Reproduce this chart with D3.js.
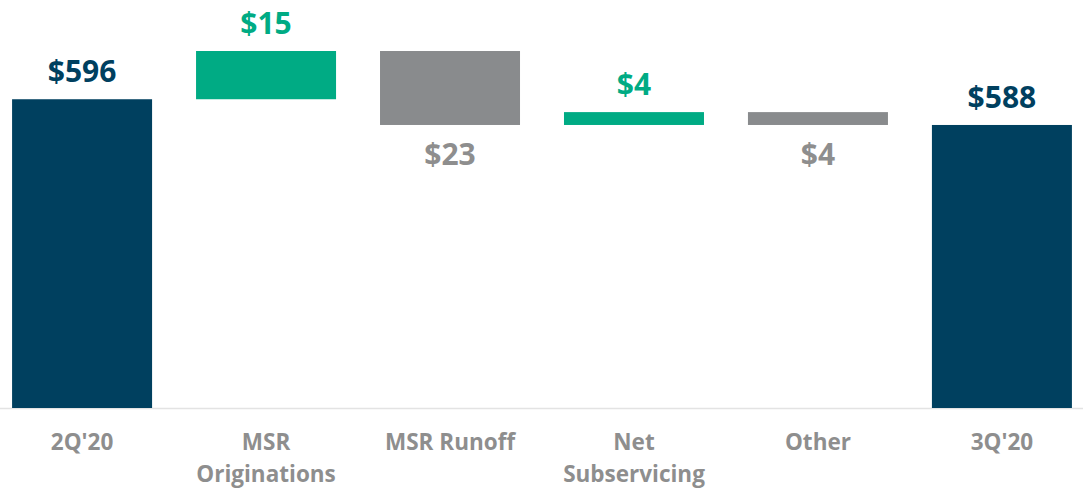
<!DOCTYPE html>
<html>
<head>
<meta charset="utf-8">
<script src="https://cdn.jsdelivr.net/npm/d3@7"></script>
<style>
  body { margin: 0; background: #fff; }
  svg { display: block; font-family: "Open Sans", "Noto Sans", sans-serif; }
</style>
</head>
<body>
<svg width="1083" height="490"></svg>
<script>
var categories = ["2Q'20", "MSR\nOriginations", "MSR Runoff", "Net\nSubservicing", "Other", "3Q'20"];
var changes = [596, 15, -23, 4, -4, 588];
var kinds = ["total", "delta", "delta", "delta", "delta", "total"];

var navy = "#00405f", green = "#00ab84", grey = "#898b8d", labelGrey = "#8e8e8e";

// build the waterfall steps
var running = 0;
var steps = categories.map(function(c, i) {
  var v = changes[i], lo, hi;
  if (kinds[i] === "total") { lo = 0; hi = v; running = v; }
  else { lo = running; hi = running + v; running = hi; }
  return { cat: c, value: v, kind: kinds[i], y0: Math.min(lo, hi), y1: Math.max(lo, hi) };
});

var svg = d3.select('svg');

var x = d3.scaleBand()
  .domain(categories)
  .range([-10, 1094])
  .paddingInner(0.239)
  .paddingOuter(0.12);

var y = d3.scaleLinear()
  .domain([500, 611])
  .range([408, 51]);

function color(d) {
  if (d.kind === "total") return navy;
  return d.value > 0 ? green : grey;
}

// baseline
svg.append('line')
  .attr('x1', 0).attr('x2', 1083)
  .attr('y1', 408.5).attr('y2', 408.5)
  .attr('stroke', '#e3e3e3')
  .attr('stroke-width', 1.5);

svg.selectAll('rect.bar')
  .data(steps)
  .enter()
  .append('rect')
    .attr('class', 'bar')
    .attr('x', function(d) { return x(d.cat); })
    .attr('width', x.bandwidth())
    .attr('y', function(d) { return y(d.y1); })
    .attr('height', function(d) {
      var bottom = d.kind === "total" ? y.range()[0] : y(d.y0);
      return bottom - y(d.y1);
    })
    .style('fill', color);

// value labels
svg.selectAll('text.val')
  .data(steps)
  .enter()
  .append('text')
    .attr('class', 'val')
    .attr('x', function(d) { return x(d.cat) + x.bandwidth() / 2; })
    .attr('y', function(d) {
      if (d.value < 0) return y(d.y0) + 40;
      return y(d.y1) - 17;
    })
    .attr('text-anchor', 'middle')
    .style('font-size', '30px')
    .style('font-weight', 700)
    .style('fill', function(d) {
      if (d.kind === "total") return navy;
      return d.value > 0 ? green : labelGrey;
    })
    .text(function(d) { return '$' + Math.abs(d.value); });

// category labels
var cats = svg.selectAll('text.cat')
  .data(categories)
  .enter()
  .append('text')
    .attr('class', 'cat')
    .attr('text-anchor', 'middle')
    .attr('x', function(d) { return x(d) + x.bandwidth() / 2; })
    .attr('y', 450)
    .style('font-size', '22.5px')
    .style('font-weight', 700)
    .style('fill', labelGrey);

cats.selectAll('tspan')
  .data(function(d) { return d.split('\n'); })
  .enter()
  .append('tspan')
    .attr('x', function() { return d3.select(this.parentNode).attr('x'); })
    .attr('dy', function(d, i) { return i === 0 ? 0 : 32; })
    .text(function(d) { return d; });
</script>
</body>
</html>
